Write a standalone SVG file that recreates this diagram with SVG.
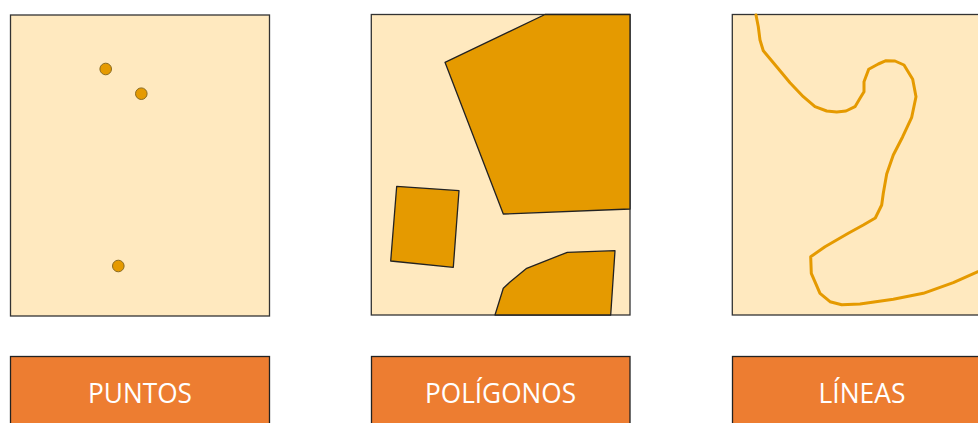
<svg xmlns="http://www.w3.org/2000/svg" width="978" height="423" viewBox="0 0 978 423">
<style>
.panel{fill:#FFE9BF;stroke:#333;stroke-width:1.3}
.feat{fill:#E59A00;stroke:#222;stroke-width:1.3;stroke-linejoin:round}
.pt{fill:#E59A00;stroke:#8A6A1E;stroke-width:1}
.line{fill:none;stroke:#E59A00;stroke-width:3;stroke-linejoin:round;stroke-linecap:round}
.lab{fill:#ED7D31;stroke:#222;stroke-width:1.3}
.txt{fill:#fff;font-family:"Open Sans","Liberation Sans",sans-serif;font-size:28px;text-anchor:middle}
</style>
<rect width="978" height="423" fill="#fff"/>
<g id="panel-puntos">
<rect class="panel" x="10.5" y="15" width="259" height="301"/>
<circle class="pt" cx="105.7" cy="69" r="5.8"/>
<circle class="pt" cx="141.3" cy="93.7" r="5.8"/>
<circle class="pt" cx="118.3" cy="266" r="5.8"/>
</g>
<g id="panel-poligonos">
<rect class="panel" x="371.3" y="14.5" width="258.7" height="300.5"/>
<polygon class="feat" points="545,14.5 630,14.5 630,209 503.3,214 445,62.3"/>
<polygon class="feat" points="396.7,186.3 459,190.7 453.3,267.3 390.7,261"/>
<polygon class="feat" points="495,315 503.3,288.3 510,282 526.7,268.3 567.3,252.3 615,250.7 610.7,315"/>
</g>
<g id="panel-lineas">
<rect class="panel" x="732.3" y="14.5" width="250" height="300.5"/>
<polyline class="line" points="756,15 758.3,26.7 760,40 763.3,50.7 776.7,66.7 790,82.7 803.3,96.7 815,106.7 826.7,111 836.7,112 846,111 855,106.7 860,98.3 864,91.7 864,81.7 868.7,69.3 878.3,64 886,60.7 895,61 904,65 912.7,79.3 916,96.7 911.7,117.3 902.7,136.7 893.3,155 886.7,174 883.3,193.3 881.7,205 875.3,218 863.3,225 848.3,233.3 825,246.7 810.7,256.7 811.3,273.3 820,293.3 830,301.7 841.7,304.7 860,304 893.3,299.3 923.3,293.3 953.3,282.7 978,271.7"/>
</g>
<g id="label-puntos">
<rect class="lab" x="10.5" y="356.5" width="259" height="80"/>
<text class="txt" x="140" y="403" textLength="104" lengthAdjust="spacingAndGlyphs">PUNTOS</text>
</g>
<g id="label-poligonos">
<rect class="lab" x="371.5" y="356.5" width="258.5" height="80"/>
<text class="txt" x="500.5" y="403" textLength="151" lengthAdjust="spacingAndGlyphs">POLÍGONOS</text>
</g>
<g id="label-lineas">
<rect class="lab" x="732.5" y="356.5" width="260" height="80"/>
<text class="txt" x="862" y="403" textLength="87" lengthAdjust="spacingAndGlyphs">LÍNEAS</text>
</g>
<g id="connectors"/>
</svg>
